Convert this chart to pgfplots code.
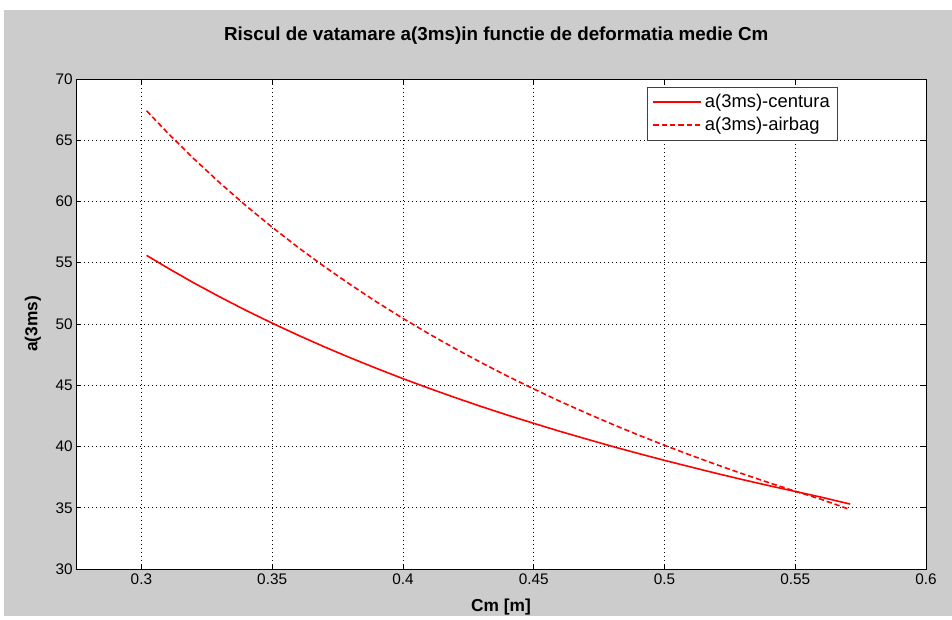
\documentclass[border=0pt]{standalone}
\usepackage{pgfplots}
\pgfplotsset{compat=1.18}
\usepackage{fontspec}
\setmainfont{Liberation Sans}
\definecolor{figgray}{RGB}{204,204,204}
\begin{document}
\begin{tikzpicture}
\fill[white] (-57pt,-35.25pt) rectangle (657pt,426.75pt);
\fill[figgray] (-54pt,-35.25pt) rectangle (657pt,419.25pt);
\begin{axis}[
  at={(0,0)}, anchor=south west, scale only axis,
  width=637.5pt, height=367.5pt,
  xmin=0.275, xmax=0.6, ymin=30, ymax=70,
  xtick={0.3,0.35,0.4,0.45,0.5,0.55,0.6},
  xticklabels={0.3,0.35,0.4,0.45,0.5,0.55,0.6},
  ytick={30,35,40,45,50,55,60,65,70},
  axis background/.style={fill=white},
  axis line style={black, line width=0.6pt},
  tick align=inside, major tick length=4pt,
  tick style={black, line width=0.5pt},
  grid=major,
  major grid style={black, line width=0.5pt, dash pattern=on 1pt off 2pt},
  ticklabel style={font=\fontsize{11.5}{13}\selectfont},
  yticklabel style={xshift=1pt},
  /pgf/number format/assume math mode=true,
  title={Riscul de vatamare a(3ms)in functie de deformatia medie Cm},
  title style={font=\bfseries\fontsize{14.1}{16}\selectfont, at={(0.5,1)}, anchor=base, yshift=23pt, xshift=-3.5pt},
  xlabel={Cm [m]},
  xlabel style={font=\bfseries\fontsize{13}{15}\selectfont, at={(0.5,0)}, anchor=base, yshift=-32pt},
  ylabel={a(3ms)},
  ylabel style={font=\bfseries\fontsize{13}{15}\selectfont, at={(-0.0506,0.5)}, anchor=center},
  legend style={at={(1,1)}, xshift=-66pt, yshift=-6pt, anchor=north east,
    draw=black!75, fill=white, font=\fontsize{13.8}{15}\selectfont,
    inner xsep=4pt, inner ysep=3.5pt, row sep=1.5pt},
  legend cell align=left,
  legend image code/.code={\draw[#1] (0pt,0pt) -- (36pt,0pt);},
  legend image post style={color=red, line width=1.3pt},
]
\addplot[color=red, line width=1.2pt, forget plot] coordinates {
(0.302,55.60) (0.31,54.58) (0.32,53.36) (0.33,52.21) (0.34,51.11) (0.35,50.07)
(0.36,49.08) (0.37,48.13) (0.38,47.23) (0.39,46.37) (0.40,45.54) (0.41,44.75)
(0.42,43.99) (0.43,43.26) (0.44,42.56) (0.45,41.89) (0.46,41.24) (0.47,40.62)
(0.48,40.01) (0.49,39.43) (0.50,38.87) (0.51,38.33) (0.52,37.80) (0.53,37.29)
(0.54,36.80) (0.55,36.33) (0.56,35.86) (0.571,35.30)
};
\addplot[color=red, line width=1.2pt, dash pattern=on 4pt off 2.2pt, forget plot] coordinates {
(0.302,67.40) (0.31,65.61) (0.32,63.50) (0.33,61.52) (0.34,59.65) (0.35,57.90)
(0.36,56.24) (0.37,54.68) (0.38,53.20) (0.39,51.79) (0.40,50.46) (0.41,49.19)
(0.42,47.99) (0.43,46.84) (0.44,45.74) (0.45,44.70) (0.46,43.69) (0.47,42.74)
(0.48,41.82) (0.49,40.94) (0.50,40.10) (0.51,39.29) (0.52,38.51) (0.53,37.76)
(0.54,37.04) (0.55,36.35) (0.56,35.68) (0.571,34.85)
};
\addlegendimage{color=red, line width=1.2pt}
\addlegendentry{a(3ms)-centura}
\addlegendimage{color=red, line width=1.2pt, dash pattern=on 4pt off 2.2pt}
\addlegendentry{a(3ms)-airbag}
\end{axis}
\end{tikzpicture}
\end{document}
